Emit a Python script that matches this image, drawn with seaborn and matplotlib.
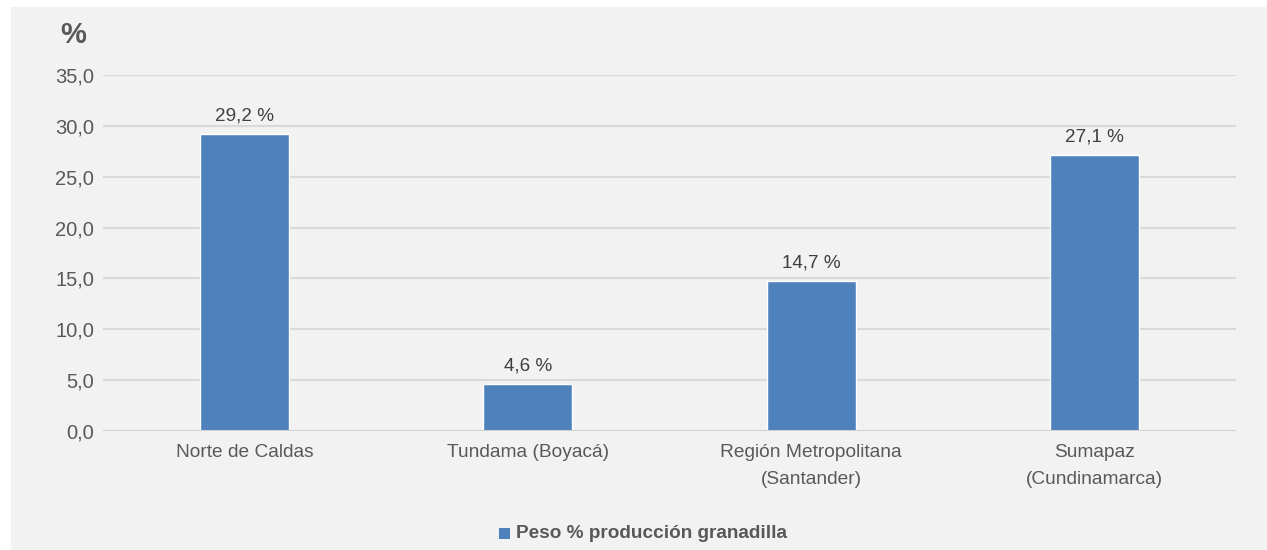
import matplotlib
matplotlib.use("Agg")
import matplotlib.pyplot as plt
import seaborn as sns
import pandas as pd
from matplotlib import font_manager as fm
from matplotlib.patches import Rectangle

categories = ["Norte de Caldas", "Tundama (Boyacá)", "Región Metropolitana\n(Santander)", "Sumapaz\n(Cundinamarca)"]
values = [29.2, 4.6, 14.7, 27.1]
series_name = "Peso % producción granadilla"
yticks = [0, 5, 10, 15, 20, 25, 30, 35]

sns.set_theme(style="white")
names = {f.name for f in fm.fontManager.ttflist}
fam = "Liberation Sans Narrow" if "Liberation Sans Narrow" in names else "Liberation Sans"
plt.rcParams["font.family"] = [fam, "DejaVu Sans"]

txt = "#595959"
bg = "#f2f2f2"
bar_color = "#4f81bd"

fig = plt.figure(figsize=(12.67, 5.5), dpi=100)
fig.patch.set_facecolor("white")
fig.add_artist(Rectangle((11 / 1267, 0), 1 - 11 / 1267, 543 / 550, transform=fig.transFigure,
                         facecolor=bg, edgecolor="none", zorder=0))

ax = fig.add_axes([103 / 1267, 1 - 431 / 550, (1236 - 103) / 1267, (431 - 75) / 550])
ax.set_facecolor(bg)
ax.patch.set_alpha(0)

df = pd.DataFrame({"cat": categories, "val": values, "serie": series_name})
sns.barplot(data=df, x="cat", y="val", hue="serie", palette=[bar_color], width=0.315,
            ax=ax, legend=False, zorder=3, saturation=1)

ax.set_ylim(0, 35)
ax.set_yticks(yticks)
ax.set_yticklabels([f"{v:.1f}".replace(".", ",") for v in yticks], color=txt, fontsize=14.5)
ax.tick_params(axis="y", length=0, pad=6.5)
ax.tick_params(axis="x", length=0, pad=9.5, labelsize=13.8, labelcolor=txt)
for lab in ax.get_xticklabels():
    lab.set_linespacing(1.75)
ax.set_xlabel("")
ax.set_ylabel("")
ax.set_xlim(-0.5, 3.5)
for v in yticks[1:]:
    ax.axhline(v, color="#d9d9d9", lw=1.5, zorder=1)
ax.axhline(0, color="#d0d0d0", lw=1.5, zorder=4)
for s in ax.spines.values():
    s.set_visible(False)

for c in ax.containers:
    ax.bar_label(c, labels=[f"{v:.1f} %".replace(".", ",") for v in values],
                 padding=7, color="#404040", fontsize=13.6)

fig.text(73 / 1267, 1 - 35 / 550, "%", fontsize=21, fontweight="bold", color=txt,
         ha="center", va="center")

# legend
fig.add_artist(Rectangle((499 / 1267, 1 - 539 / 550), 11 / 1267, 11 / 550,
                         transform=fig.transFigure, facecolor=bar_color, edgecolor="none"))
fig.text(516 / 1267, 1 - 533 / 550, series_name, fontsize=13.7, fontweight="bold",
         color=txt, ha="left", va="center")

fig.savefig("out.png", dpi=100, facecolor=fig.get_facecolor())
